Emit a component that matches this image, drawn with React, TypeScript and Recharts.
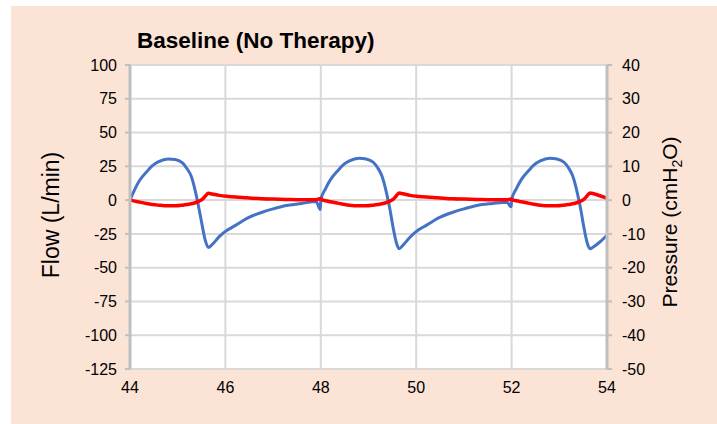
import React from 'react'
import { LineChart, Line, XAxis, YAxis, CartesianGrid } from 'recharts'

// time (s)
const time = [
  44.0, 44.1, 44.2, 44.35, 44.47, 44.6, 44.8, 44.95, 45.1, 45.2, 45.28, 45.38, 45.45, 45.52, 45.58, 45.64,
  45.72, 45.87, 46.05, 46.22, 46.45, 46.77, 47.0, 47.27, 47.6, 47.9, 47.99,
  48.0, 48.1, 48.2, 48.35, 48.47, 48.6, 48.8, 48.95, 49.1, 49.2, 49.28, 49.38, 49.45, 49.52, 49.58, 49.64,
  49.72, 49.87, 50.05, 50.22, 50.45, 50.77, 51.0, 51.27, 51.6, 51.9, 51.99,
  52.0, 52.1, 52.2, 52.35, 52.47, 52.6, 52.8, 52.95, 53.1, 53.2, 53.28, 53.38, 53.45, 53.52, 53.58, 53.64,
  53.72, 53.85, 54.0,
]

// flow (L/min)
const flow = [
  0, 8, 14.5, 21, 25.5, 28.5, 30.5, 30, 27.5, 23, 18, 5, -7, -20, -30, -35,
  -33, -27, -22, -18.5, -13.5, -9, -6.5, -4, -2.5, -1, -7,
  0, 8.5, 15, 21.5, 26, 29, 31, 30.5, 28, 23.5, 18, 5, -7, -21, -31, -36,
  -33.5, -27.5, -22, -18.5, -13.5, -9, -6.5, -4, -2.5, -1.5, -5,
  0, 8.5, 15, 21.5, 26, 29, 31, 30.5, 28, 23.5, 18, 5, -7, -21, -31, -36,
  -34.5, -31, -26,
]

// pressure (cmH2O)
const pressure = [
  0, -0.3, -0.6, -1.0, -1.3, -1.5, -1.7, -1.7, -1.5, -1.3, -1.1, -0.7, -0.3, 0.3, 1.2, 2.0,
  1.8, 1.4, 1.1, 0.9, 0.7, 0.4, 0.3, 0.2, 0.1, 0.1, 0.5,
  0.3, -0.2, -0.5, -0.9, -1.2, -1.5, -1.7, -1.7, -1.5, -1.3, -1.1, -0.7, -0.3, 0.3, 1.2, 2.1,
  1.9, 1.4, 1.1, 0.9, 0.7, 0.4, 0.3, 0.2, 0.1, 0.1, 0.3,
  0.2, -0.2, -0.5, -0.9, -1.2, -1.5, -1.7, -1.7, -1.5, -1.3, -1.1, -0.7, -0.3, 0.3, 1.2, 2.1,
  1.9, 1.3, 0.6,
]

const xTicks = [44, 46, 48, 50, 52, 54]
const flowTicks = [-125, -100, -75, -50, -25, 0, 25, 50, 75, 100]
const pressureTicks = [-50, -40, -30, -20, -10, 0, 10, 20, 30, 40]

const data = time.map((t, i) => ({ t, flow: flow[i], pressure: pressure[i] }))

const FONT = '"Liberation Sans", Arial, sans-serif'
const tickStyle = { fill: '#000', fontSize: 16, fontFamily: FONT }

export default function App() {
  return (
    <div style={{ position: 'absolute', left: 0, top: 0, width: 717, height: 424, background: '#fff', fontFamily: FONT }}>
      <div style={{ position: 'absolute', left: 11, top: 6, width: 706, height: 418, background: '#FBE3D6' }} />

      <LineChart
        width={717}
        height={424}
        data={data}
        margin={{ top: 65, right: 50, bottom: 25, left: 70 }}
        style={{ position: 'absolute', left: 0, top: 0 }}
      >
        <CartesianGrid yAxisId="left" stroke="#D9D9D9" strokeWidth={2} fill="#fff" />
        <XAxis
          dataKey="t"
          type="number"
          domain={[44, 54]}
          ticks={xTicks}
          height={30}
          tickLine={false}
          tickSize={6}
          tickMargin={7}
          axisLine={{ stroke: '#D9D9D9', strokeWidth: 2 }}
          tick={tickStyle}
        />
        <YAxis
          yAxisId="left"
          orientation="left"
          width={60}
          domain={[-125, 100]}
          ticks={flowTicks}
          tickSize={5}
          tickMargin={8}
          axisLine={{ stroke: '#BFBFBF', strokeWidth: 3 }}
          tickLine={{ stroke: '#BFBFBF', strokeWidth: 2 }}
          tick={tickStyle}
        />
        <YAxis
          yAxisId="right"
          orientation="right"
          width={60}
          domain={[-50, 40]}
          ticks={pressureTicks}
          tickSize={5}
          tickMargin={10}
          axisLine={{ stroke: '#BFBFBF', strokeWidth: 3 }}
          tickLine={{ stroke: '#BFBFBF', strokeWidth: 2 }}
          tick={{ ...tickStyle, textAnchor: 'start' }}
        />
        <Line
          yAxisId="left"
          dataKey="flow"
          type="monotone"
          stroke="#4472C4"
          strokeWidth={3}
          dot={false}
          isAnimationActive={false}
        />
        <Line
          yAxisId="right"
          dataKey="pressure"
          type="monotone"
          stroke="#FF0000"
          strokeWidth={3.5}
          dot={false}
          isAnimationActive={false}
        />
      </LineChart>

      {/* title and axis titles */}
      <div style={{ position: 'absolute', left: 137, top: 30, fontSize: 22.5, lineHeight: '22px', fontWeight: 'bold', whiteSpace: 'nowrap' }}>
        Baseline (No Therapy)
      </div>
      <div
        style={{
          position: 'absolute', left: 51 - 100, top: 215 - 12, width: 200, height: 24, lineHeight: '24px',
          textAlign: 'center', fontSize: 23, transform: 'rotate(-90deg)', whiteSpace: 'nowrap',
        }}
      >
        Flow (L/min)
      </div>
      <div
        style={{
          position: 'absolute', left: 670 - 120, top: 222 - 12, width: 240, height: 24, lineHeight: '24px',
          textAlign: 'center', fontSize: 21, transform: 'rotate(-90deg)', whiteSpace: 'nowrap',
        }}
      >
        Pressure (cmH<span style={{ fontSize: 14, position: 'relative', top: 5 }}>2</span>O)
      </div>
    </div>
  )
}
